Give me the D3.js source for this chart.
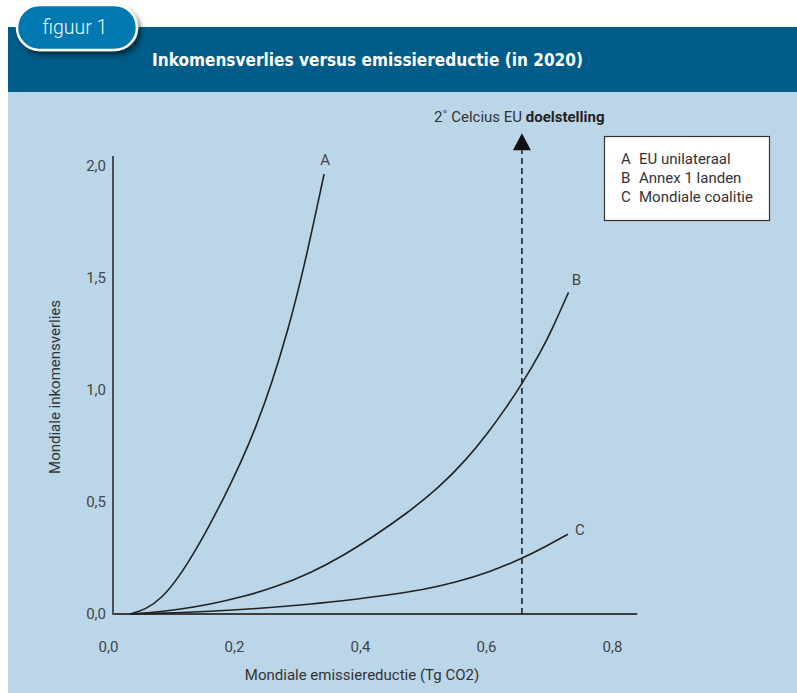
<!DOCTYPE html>
<html><head><meta charset="utf-8">
<script src="https://cdn.jsdelivr.net/npm/d3@7"></script>
<style>body{margin:0;background:#fff}svg{display:block}</style>
</head><body>
<svg id="c" width="797" height="693"></svg>
<script>
// ---- data ----
const xTicks = [0, 0.2, 0.4, 0.6, 0.8];
const yTicks = [0, 0.5, 1.0, 1.5, 2.0];
const seriesNames = ["A", "B", "C"];
const legendLabels = ["EU unilateraal", "Annex 1 landen", "Mondiale coalitie"];
const curveA = [[0.035,0.0],[0.06,0.02],[0.085,0.07],[0.11,0.155],[0.135,0.265],[0.16,0.39],[0.185,0.525],[0.21,0.67],[0.235,0.835],[0.26,1.03],[0.285,1.26],[0.31,1.53],[0.343,1.964]];
const curveB = [[0.035,0.0],[0.06,0.004],[0.109,0.018],[0.162,0.043],[0.215,0.077],[0.268,0.122],[0.321,0.182],[0.37,0.255],[0.421,0.345],[0.474,0.448],[0.527,0.568],[0.569,0.69],[0.601,0.80],[0.633,0.925],[0.657,1.027],[0.686,1.164],[0.707,1.283],[0.731,1.436]];
const curveC = [[0.035,0.0],[0.083,0.003],[0.162,0.011],[0.241,0.025],[0.321,0.044],[0.384,0.062],[0.44,0.083],[0.50,0.108],[0.553,0.142],[0.606,0.188],[0.657,0.247],[0.696,0.303],[0.730,0.356]];
const targetX = 0.657;
const title = "Inkomensverlies versus emissiereductie (in 2020)";
const tabLabel = "figuur 1";
const xTitle = "Mondiale emissiereductie (Tg CO2)";
const yTitle = "Mondiale inkomensverlies";

// ---- drawing ----
const svg = d3.select("#c");
const FONT = "Roboto, 'Open Sans', sans-serif";
const defs = svg.append("defs");
const f = defs.append("filter").attr("id","sh").attr("x","-20%").attr("y","-30%").attr("width","150%").attr("height","180%");
f.append("feDropShadow").attr("dx",3).attr("dy",4).attr("stdDeviation",2.5).attr("flood-color","#000").attr("flood-opacity",0.5);

svg.append("rect").attr("x",8).attr("y",92).attr("width",789).attr("height",601).attr("fill","#bbd6e9");
svg.append("rect").attr("x",8).attr("y",27).attr("width",789).attr("height",65).attr("fill","#005c88");

svg.append("text").attr("x",152).attr("y",66).attr("fill","#fff")
  .attr("font-family","'Liberation Sans Narrow','DejaVu Sans Condensed',Roboto,sans-serif")
  .attr("font-weight","bold").attr("font-size",17.5)
  .attr("textLength",431).attr("lengthAdjust","spacingAndGlyphs").text(title);

svg.append("rect").attr("x",17).attr("y",5).attr("width",120).attr("height",45).attr("rx",22.5)
  .attr("fill","#0079b1").attr("stroke","#fff").attr("stroke-width",2.5).attr("filter","url(#sh)");
svg.append("text").attr("x",75).attr("y",34).attr("text-anchor","middle").attr("fill","#eef6fb")
  .attr("font-family",FONT).attr("font-weight",300).attr("font-size",19.5).text(tabLabel);

const x = d3.scaleLinear().domain([0,0.8]).range([108,612]);
const y = d3.scaleLinear().domain([0,2]).range([614,166]);
const loc = d3.formatLocale({decimal:",", thousands:".", grouping:[3], currency:["€",""]});
const fmt = loc.format(".1f");

const gx = svg.append("g").attr("transform","translate(0,614)")
  .call(d3.axisBottom(x).tickValues(xTicks).tickFormat(fmt).tickSize(0).tickPadding(27));
gx.select(".domain").remove();
gx.selectAll("text").attr("font-family",FONT).attr("font-size",15).attr("fill","#444");

const gy = svg.append("g").attr("transform","translate(113,0)")
  .call(d3.axisLeft(y).tickValues(yTicks).tickFormat(fmt).tickSize(0).tickPadding(7));
gy.select(".domain").remove();
gy.selectAll("text").attr("font-family",FONT).attr("font-size",15).attr("fill","#444");

// axis lines
svg.append("line").attr("x1",x(0)+5).attr("x2",x(0.84)).attr("y1",y(0)).attr("y2",y(0)).attr("stroke","#3d3d3d").attr("stroke-width",2);
svg.append("line").attr("x1",x(0)+5).attr("x2",x(0)+5).attr("y1",y(0)+1).attr("y2",y(2.045)).attr("stroke","#4a4f55").attr("stroke-width",2);

// dashed target
svg.append("line").attr("x1",x(targetX)).attr("x2",x(targetX)).attr("y1",y(0)).attr("y2",y(2.07))
  .attr("stroke","#222").attr("stroke-width",1.6).attr("stroke-dasharray","6,4");
const ax = x(targetX), ay = y(2.07);
svg.append("path").attr("d",`M${ax},${ay-17}L${ax+9},${ay}L${ax-9},${ay}Z`).attr("fill","#111");

const tt = svg.append("text").attr("x",434).attr("y",122).attr("font-family",FONT).attr("font-size",15).attr("fill","#333");
tt.append("tspan").text("2˚ Celcius EU ");
tt.append("tspan").attr("font-weight","bold").attr("fill","#222").text("doelstelling");

// curves
const line = d3.line().x(d=>x(d[0])).y(d=>y(d[1])).curve(d3.curveBasis);
const curves = [curveA, curveB, curveC];
const offs = [[1,-9],[8,-7],[12,1]];
curves.forEach((c,i)=>{
  svg.append("path").attr("d",line(c)).attr("fill","none").attr("stroke","#222").attr("stroke-width",1.6);
  const e = c[c.length-1];
  svg.append("text").attr("x",x(e[0])+offs[i][0]).attr("y",y(e[1])+offs[i][1]).attr("text-anchor","middle")
    .attr("font-family",FONT).attr("font-size",15).attr("fill","#444").text(seriesNames[i]);
});

// legend
svg.append("rect").attr("x",604.5).attr("y",136.5).attr("width",165).attr("height",84).attr("fill","#fff").attr("stroke","#333").attr("stroke-width",1.2);
seriesNames.forEach((n,i)=>{
  const t = svg.append("text").attr("y",163.5+i*19.2).attr("font-family",FONT).attr("font-size",15).attr("fill","#333");
  t.append("tspan").attr("x",621).text(n);
  t.append("tspan").attr("x",639).text(legendLabels[i]);
});

// axis titles
svg.append("text").attr("x",362).attr("y",680).attr("text-anchor","middle").attr("font-family",FONT).attr("font-size",15).attr("fill","#333").text(xTitle);
svg.append("text").attr("transform","translate(60,387) rotate(-90)").attr("text-anchor","middle").attr("font-family",FONT).attr("font-size",15).attr("fill","#333").text(yTitle);
</script>
</body></html>
